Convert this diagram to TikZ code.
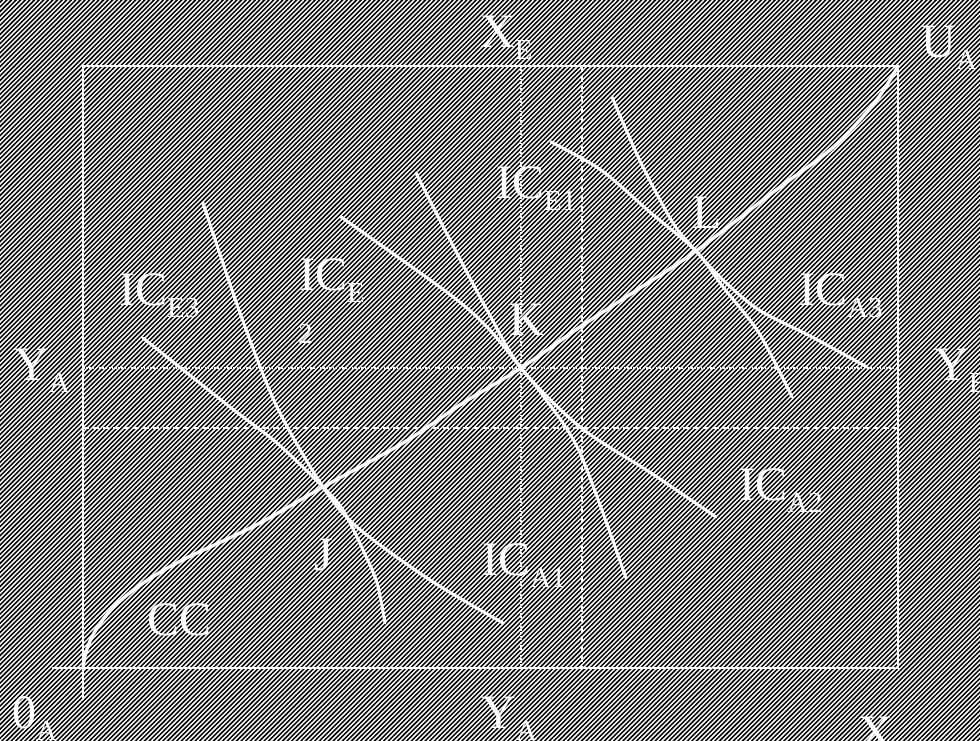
\documentclass[tikz,border=0pt]{standalone}
\usepackage{fontspec}
\setmainfont{Liberation Serif}
\usetikzlibrary{positioning}
\tikzset{
  hatch/.style  ={draw=white!80, line width=1.45pt},
  frame/.style  ={draw=white, line width=2pt},
  icurve/.style ={draw=white, line width=3pt, line cap=round},
  ccurve/.style ={draw=white, line width=3.4pt, line cap=round},
  dotline/.style={draw=white, line width=1.6pt, dash pattern=on 1.6pt off 1.6pt},
  dashline/.style={draw=white, line width=1.6pt, dash pattern=on 6pt off 4pt},
  lab/.style    ={text=white, inner sep=0pt, anchor=base west,
                  font=\fontsize{48}{48}\selectfont},
}
\newcommand{\sublab}[2]{#1\raisebox{-12pt}{\fontsize{29}{29}\selectfont #2}}

\begin{document}
\begin{tikzpicture}[x=1pt,y=-1pt]
\useasboundingbox (0,0) rectangle (980,741);
% hatched ground
\fill[black] (0,0) rectangle (980,741);
\begin{scope}
  \clip (0,0) rectangle (980,741);
  \foreach \i in {0,...,376}
    {\draw[hatch] ({\i*4.6-745},745) -- ++(745,-745);}
\end{scope}
% box corners and tangency points
\coordinate (OA) at (83,668);
\coordinate (OE) at (898,66);
\coordinate (J) at (323,487);
\coordinate (K) at (521,368);
\coordinate (L) at (696,251);
% guide lines
\draw[dotline]  (521,66) -- (521,668);
\draw[dashline] (582,66) -- (582,668);
\draw[dotline]  (83,368) -- (898,368);
\draw[dashline] (83,428) -- (898,428);
% box
\draw[frame] (83,700) -- (OA |- OE) -- (OE) -- (OE |- OA) -- (52,668);
% contract curve
\draw[ccurve] (OA) .. controls (88,615) and (140,578) .. (210,547)
  -- plot[smooth, tension=0.55] coordinates {(210,547) (260,523) (J)
  (403,443) (463,403) (K) (580,327) (640,288) (L) (776,190) (830,150)
  (867,112) (885,88) (OE)};
% indifference curves
\draw[icurve] plot[smooth] coordinates {(203,203) (240,313) (277,407) (J)
  (357,527) (430,580) (503,623)};
\draw[icurve] plot[smooth] coordinates {(143,338) (230,407) (277,443) (J)
  (343,510) (363,550) (377,583) (385,623)};
\draw[icurve] plot[smooth] coordinates {(416,173) (448,236) (487,310) (K)
  (580,427) (651,473) (716,517)};
\draw[icurve] plot[smooth] coordinates {(341,217) (448,293) (487,327) (K)
  (544,397) (580,453) (626,578)};
\draw[icurve] plot[smooth] coordinates {(612,97) (641,163) (673,223) (L)
  (723,280) (759,310) (812,337) (867,367)};
\draw[icurve] plot[smooth] coordinates {(551,142) (601,170) (651,213) (L)
  (723,287) (759,333) (792,397)};
% axis labels
\node[lab] (xe)  at (480,48)  {\sublab{X}{E}};
\node[lab] (ua)  at (921,58)  {\sublab{U}{A}};
\node[lab] (yal) at (14,380)  {\sublab{Y}{A}};
\node[lab] (yer) at (934,380) {\sublab{Y}{E}};
\node[lab] (oa)  at (12,728)  {\sublab{0}{A}};
\node[lab] (yab) at (481,728) {\sublab{Y}{A}};
\node[lab] (xab) at (858,748) {\sublab{X}{A}};
% curve labels
\node[lab] (ice3) at (119,305) {\sublab{IC}{E3}};
\node[lab] (ice2) at (299,290) {\sublab{IC}{E}};
\node[lab,font=\fontsize{29}{29}\selectfont] (ice2b) at (298,343) {2};
\node[lab] (ice1) at (496,198) {\sublab{IC}{E1}};
\node[lab] (ica3) at (799,305) {\sublab{IC}{A3}};
\node[lab] (ica2) at (739,500) {\sublab{IC}{A2}};
\node[lab] (ica1) at (482,575) {\sublab{IC}{A1}};
\node[lab] (jlab) at (314,570) {J};
\node[lab] (klab) at (509,335) {K};
\node[lab] (llab) at (692,228) {L};
\node[lab] (cc)   at (147,635) {CC};
\end{tikzpicture}
\end{document}
